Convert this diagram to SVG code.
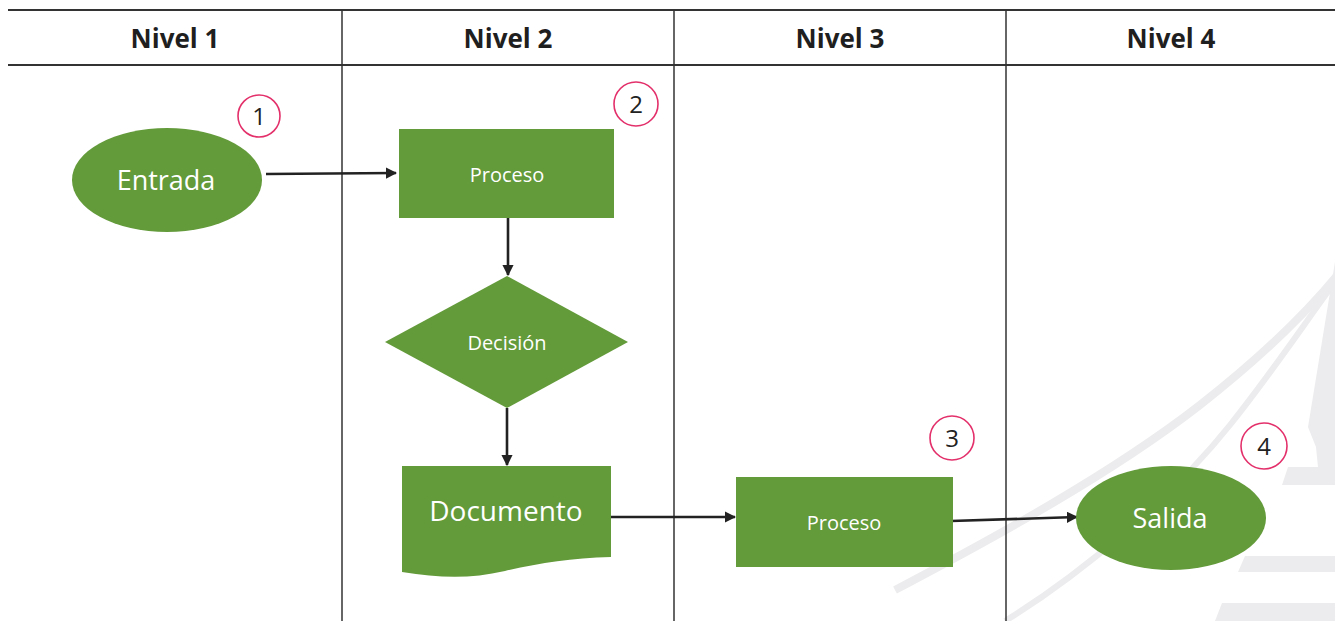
<svg xmlns="http://www.w3.org/2000/svg" width="1335" height="621" viewBox="0 0 1335 621">
<style>
.hdr{font-family:"Open Sans","Liberation Sans",sans-serif;font-weight:700;font-size:26px;fill:#1f1f1f;text-anchor:middle}
.shape{fill:#639a3a}
.lbl{font-family:"Open Sans","Liberation Sans",sans-serif;fill:#ffffff;text-anchor:middle}
.badge{fill:#ffffff;stroke:#e3306b;stroke-width:1.6}
.num{font-family:"Open Sans","Liberation Sans",sans-serif;font-size:24px;fill:#222222;text-anchor:middle}
.grid{stroke:#333333;fill:none}
.conn{stroke:#222222;stroke-width:2.6;fill:none;marker-end:url(#arr)}
.wm{fill:#ececee}
.wml{fill:none;stroke:#ececee}
</style>
<defs>
<marker id="arr" viewBox="0 0 10 10" refX="9" refY="5" markerWidth="4.4" markerHeight="4.4" orient="auto" markerUnits="strokeWidth">
<path d="M0,0 L10,5 L0,10 z" fill="#222222"/>
</marker>
</defs>
<rect width="1335" height="621" fill="#ffffff"/>
<g id="watermark">
<path class="wml" stroke-width="8" d="M895,590 C990,540 1110,475 1200,405 C1260,358 1305,315 1340,272"/>
<path class="wml" stroke-width="6" d="M1005,621 C1080,575 1170,500 1230,425 C1270,375 1300,330 1335,282"/>
<path class="wm" d="M1335,262 L1308,427 L1316,447 L1318,467 L1288,467 L1282,485 L1335,485 z"/>
<path class="wm" d="M1245,556 L1335,556 L1335,572 L1238,572 z"/>
<path class="wm" d="M1222,603 L1335,603 L1335,621 L1215,621 z"/>
</g>
<g id="lanes">
<line class="grid" x1="8" y1="10" x2="1335" y2="10" stroke-width="2"/>
<line class="grid" x1="8" y1="65" x2="1335" y2="65" stroke-width="2"/>
<line class="grid" x1="342" y1="10" x2="342" y2="621" stroke-width="1.5"/>
<line class="grid" x1="674" y1="10" x2="674" y2="621" stroke-width="1.5"/>
<line class="grid" x1="1006" y1="10" x2="1006" y2="621" stroke-width="1.5"/>
<text class="hdr" x="175" y="48">Nivel 1</text>
<text class="hdr" x="508" y="48">Nivel 2</text>
<text class="hdr" x="840" y="48">Nivel 3</text>
<text class="hdr" x="1171" y="48">Nivel 4</text>
</g>
<g id="connectors">
<line class="conn" x1="266" y1="174" x2="396" y2="173"/>
<line class="conn" x1="508" y1="218" x2="508" y2="275"/>
<line class="conn" x1="507" y1="408" x2="507" y2="465"/>
<line class="conn" x1="610" y1="517" x2="735" y2="517"/>
<line class="conn" x1="951" y1="521" x2="1077" y2="517"/>
</g>
<g id="entrada">
<ellipse class="shape" cx="167" cy="180" rx="95" ry="52"/>
<text class="lbl" x="166" y="190" font-size="27">Entrada</text>
</g>
<g id="badge1">
<circle class="badge" cx="259" cy="116" r="21"/>
<text class="num" x="259" y="125">1</text>
</g>
<g id="proceso1">
<rect class="shape" x="399" y="129" width="215" height="89"/>
<text class="lbl" x="507" y="182" font-size="20">Proceso</text>
</g>
<g id="badge2">
<circle class="badge" cx="636" cy="104" r="22"/>
<text class="num" x="636" y="113">2</text>
</g>
<g id="decision">
<path class="shape" d="M507,276 L628,342 L507,408 L385,342 z"/>
<text class="lbl" x="507" y="350" font-size="20">Decisión</text>
</g>
<g id="documento">
<path class="shape" d="M402,466 L611,466 L611,557 C570,558 540,563 505,571 C470,579 440,578 402,572 z"/>
<text class="lbl" x="506" y="521" font-size="28">Documento</text>
</g>
<g id="proceso2">
<rect class="shape" x="736" y="477" width="217" height="90"/>
<text class="lbl" x="844" y="530" font-size="20">Proceso</text>
</g>
<g id="badge3">
<circle class="badge" cx="952" cy="438" r="22"/>
<text class="num" x="952" y="447">3</text>
</g>
<g id="salida">
<ellipse class="shape" cx="1171" cy="518" rx="95" ry="52"/>
<text class="lbl" x="1170" y="528" font-size="27">Salida</text>
</g>
<g id="badge4">
<circle class="badge" cx="1264" cy="446" r="23"/>
<text class="num" x="1264" y="455">4</text>
</g>
</svg>
